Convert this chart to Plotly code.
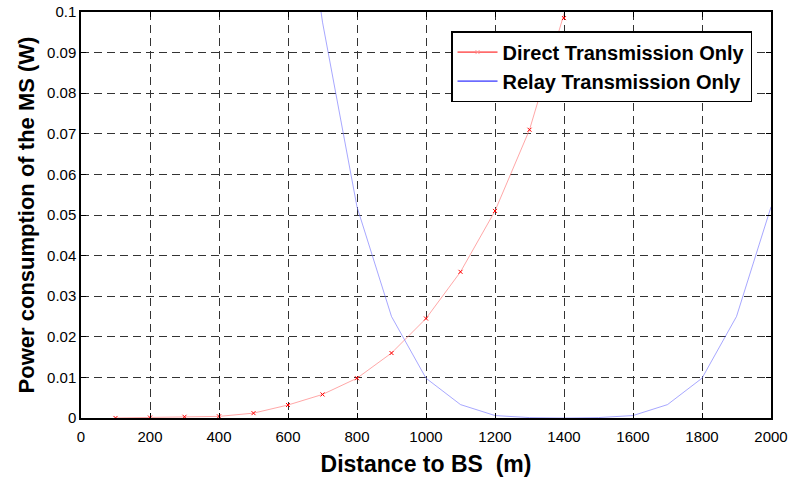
import plotly.graph_objects as go

distance = [100, 200, 300, 400, 500, 600, 700, 800, 900, 1000,
            1100, 1200, 1300, 1400, 1500, 1600, 1700, 1800, 1900, 2000]
direct_power = [0.00001, 0.0001, 0.0003, 0.0004, 0.0012, 0.0032, 0.0058, 0.0098, 0.016, 0.0245,
                0.036, 0.051, 0.071, 0.0985, 0.128, 0.165, 0.21, 0.26, 0.32, 0.39]
relay_power = [0.82, 0.57, 0.39, 0.25, 0.24, 0.157, 0.0975, 0.052, 0.025, 0.0098,
               0.0033, 0.0006, 0.0001, 0.0, 0.0001, 0.0006, 0.0033, 0.0098, 0.025, 0.052]

x_ticks = [0, 200, 400, 600, 800, 1000, 1200, 1400, 1600, 1800, 2000]
y_ticks = [0, 0.01, 0.02, 0.03, 0.04, 0.05, 0.06, 0.07, 0.08, 0.09, 0.1]
y_tick_text = ["0", "0.01", "0.02", "0.03", "0.04", "0.05", "0.06", "0.07", "0.08", "0.09", "0.1"]

FONT = "Liberation Sans, Arial"

fig = go.Figure()
fig.add_trace(go.Scatter(x=distance, y=direct_power, mode="lines+markers",
                         line=dict(color="rgba(255,130,130,0.7)", width=1),
                         marker=dict(symbol="x-thin", size=4, color="red",
                                     line=dict(color="red", width=1)),
                         showlegend=False))
fig.add_trace(go.Scatter(x=distance, y=relay_power, mode="lines",
                         line=dict(color="rgba(120,120,255,0.65)", width=1),
                         showlegend=False))
# legend entries
fig.add_trace(go.Scatter(x=[None], y=[None], mode="lines+markers", name="Direct Transmission Only",
                         line=dict(color="red", width=1),
                         marker=dict(symbol="x-thin", size=4, color="rgba(255,150,150,1)",
                                     line=dict(color="rgba(255,150,150,1)", width=1))))
fig.add_trace(go.Scatter(x=[None], y=[None], mode="lines", name="Relay Transmission Only",
                         line=dict(color="blue", width=1)))

axis_common = dict(showline=True, linecolor="black", linewidth=1.5, mirror="ticks",
                   ticks="inside", ticklen=5, tickcolor="black",
                   showgrid=True, gridcolor="#333", gridwidth=1, griddash="8px,5px",
                   zeroline=False, automargin=False,
                   tickfont=dict(family=FONT, size=15, color="black"))

fig.update_xaxes(range=[0, 2000], tickvals=x_ticks, ticklabelstandoff=4, **axis_common,
                 title=dict(text="<b>Distance to BS  (m)</b>", standoff=14,
                            font=dict(family=FONT, size=23, color="black")))
fig.update_yaxes(range=[0, 0.1], tickvals=y_ticks, ticktext=y_tick_text, **axis_common,
                 title=dict(text="<b>Power consumption of the MS (W)</b>", standoff=6,
                            font=dict(family=FONT, size=22, color="black")))

fig.update_layout(
    width=792, height=477,
    margin=dict(l=81, r=21, t=12, b=59),
    plot_bgcolor="white", paper_bgcolor="white",
    legend=dict(x=0.9725, y=0.953, xanchor="right", yanchor="top",
                bgcolor="white", bordercolor="black", borderwidth=1.5,
                font=dict(family=FONT, size=20, color="black", weight="bold"),
                itemwidth=40, tracegroupgap=0),
    showlegend=True,
)

fig.write_html("out.html")
